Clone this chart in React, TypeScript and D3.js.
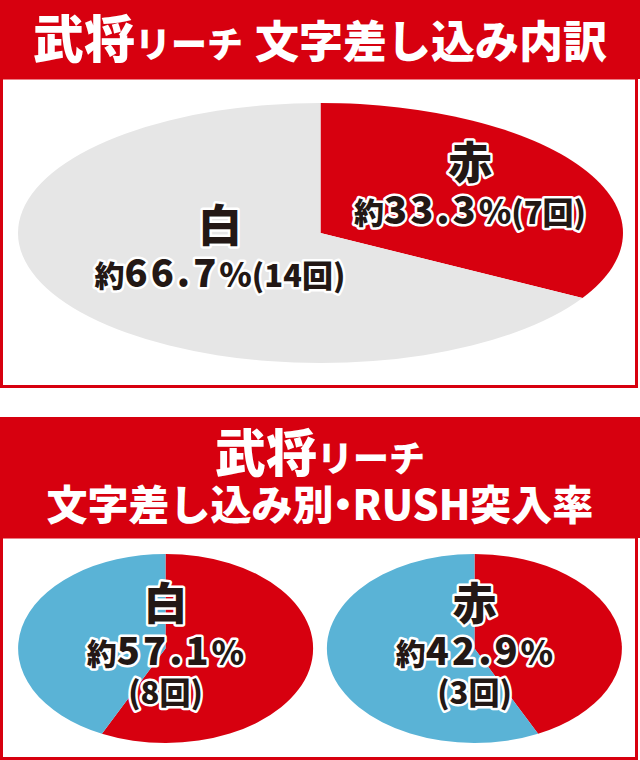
import * as d3 from "d3";
import React from "react";

// 武将リーチ 文字差し込み内訳 (order: clockwise from top)
const breakdownLabels = ["赤", "白"];
const breakdownCounts = [7, 14];
const breakdownPct = ["33.3", "66.7"];

// 文字差し込み別・RUSH突入率
const rushLabels = ["白", "赤"];
const rushPct = [57.1, 42.9];
const rushPctText = ["57.1", "42.9"];
const rushCounts = [8, 3];

const RED = "#d7000f";
const GRAY = "#e6e6e6";
const BLUE = "#5ab3d6";
const INK = "#231815";
const FONT = "'Noto Sans CJK JP', 'Noto Sans', sans-serif";

const W = 640;
const H = 760;

const arcGen = d3.arc<d3.PieArcDatum<number>>().innerRadius(0).outerRadius(1);
const pieGen = d3.pie<number>().sort(null).value((d) => d);

interface EllipsePieProps {
    values: number[];
    colors: string[];
    cx: number;
    cy: number;
    rx: number;
    ry: number;
}

const EllipsePie: React.FC<EllipsePieProps> = ({ values, colors, cx, cy, rx, ry }) => {
    const arcs = pieGen(values);
    return (
        <g transform={`translate(${cx},${cy}) scale(${rx},${ry})`}>
            {arcs.map((a, i) => (
                <path key={i} d={arcGen(a) || ""} fill={colors[i]} />
            ))}
        </g>
    );
};

const outline = {
    fill: INK,
    stroke: "#fff",
    strokeWidth: 5,
    strokeLinejoin: "round" as const,
    paintOrder: "stroke",
    fontFamily: FONT,
    fontWeight: 900,
    textAnchor: "middle" as const,
};

interface LabelProps {
    x: number;
    y: number;
    name: string;
    pct: string;
    count: number;
    inline: boolean;
}

const Label: React.FC<LabelProps> = ({ x, y, name, pct, count, inline }) => (
    <g>
        <text x={x} y={y} style={outline} fontSize={44}>
            {name}
        </text>
        <text x={x} y={y + 45} style={outline}>
            <tspan fontSize={30}>約</tspan>
            <tspan fontSize={38} letterSpacing={3}>
                {pct}
            </tspan>
            <tspan fontSize={33}>%</tspan>
            {inline && <tspan fontSize={31}>({count}回)</tspan>}
        </text>
        {!inline && (
            <text x={x} y={y + 84} style={outline} fontSize={31}>
                ({count}回)
            </text>
        )}
    </g>
);

const titleStyle = {
    fill: "#fff",
    fontFamily: FONT,
    fontWeight: 900,
    textAnchor: "middle" as const,
};

export default function App() {
    const p1 = { cx: 320.5, cy: 233, rx: 302.5, ry: 130 };
    const p2 = [
        { cx: 165.5, cy: 648.5, rx: 147.5, ry: 94.5 },
        { cx: 474.5, cy: 648.5, rx: 147.5, ry: 94.5 },
    ];
    const p1Pos = [
        { x: 470, y: 179 },
        { x: 220, y: 242 },
    ];

    return (
        <svg
            width={W}
            height={H}
            viewBox={`0 0 ${W} ${H}`}
            style={{ position: "absolute", left: 0, top: 0, background: "#fff" }}
        >
            {/* panel 1 */}
            <rect x={0} y={0} width={W} height={79} fill={RED} />
            <rect x={1.5} y={78} width={635} height={308.5} fill="#fff" stroke={RED} strokeWidth={3} />
            <text x={320} y={58} style={titleStyle}>
                <tspan fontSize={51}>武将</tspan>
                <tspan fontSize={36}>リーチ</tspan>
                <tspan fontSize={44} dx={12}>
                    文字差し込み内訳
                </tspan>
            </text>
            <EllipsePie values={breakdownCounts} colors={[RED, GRAY]} {...p1} />
            {breakdownLabels.map((name, i) => (
                <Label
                    key={name}
                    x={p1Pos[i].x}
                    y={p1Pos[i].y}
                    name={name}
                    pct={breakdownPct[i]}
                    count={breakdownCounts[i]}
                    inline
                />
            ))}

            {/* panel 2 */}
            <rect x={0} y={417} width={W} height={121} fill={RED} />
            <rect x={1.5} y={537} width={635} height={221.5} fill="#fff" stroke={RED} strokeWidth={3} />
            <text x={320} y={472} style={titleStyle}>
                <tspan fontSize={51}>武将</tspan>
                <tspan fontSize={36}>リーチ</tspan>
            </text>
            <text x={320} y={520} style={titleStyle} fontSize={41}>
                <tspan>文字差し込み別</tspan>
                <tspan dx={-11}>・</tspan>
                <tspan dx={-11}>RUSH突入率</tspan>
            </text>
            {rushPct.map((v, i) => (
                <EllipsePie key={i} values={[v, 100 - v]} colors={[RED, BLUE]} {...p2[i]} />
            ))}
            {rushLabels.map((name, i) => (
                <Label
                    key={name}
                    x={p2[i].cx}
                    y={620}
                    name={name}
                    pct={rushPctText[i]}
                    count={rushCounts[i]}
                    inline={false}
                />
            ))}
        </svg>
    );
}
